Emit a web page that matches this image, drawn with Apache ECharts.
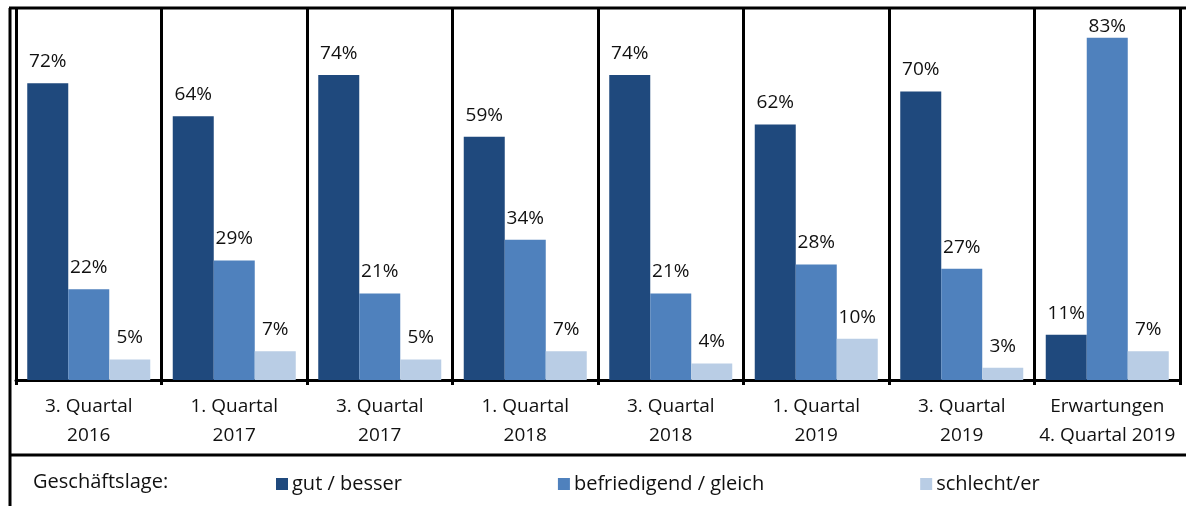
<!DOCTYPE html>
<html>
<head>
<meta charset="utf-8">
<script src="https://cdn.jsdelivr.net/npm/echarts@6/dist/echarts.min.js"></script>
<style>
  html, body { margin: 0; padding: 0; background: #fff; }
  #main { width: 1186px; height: 506px; }
</style>
</head>
<body>
<div id="main"></div>
<script>
// Geschäftslage – Anteile in Prozent
var categories = ['3. Quartal\n2016', '1. Quartal\n2017', '3. Quartal\n2017', '1. Quartal\n2018',
                  '3. Quartal\n2018', '1. Quartal\n2019', '3. Quartal\n2019', 'Erwartungen\n4. Quartal 2019'];
var seriesNames = ['gut / besser', 'befriedigend / gleich', 'schlecht/er'];
var gutBesser = [72, 64, 74, 59, 74, 62, 70, 11];
var befriedigendGleich = [22, 29, 21, 34, 21, 28, 27, 83];
var schlechter = [5, 7, 5, 7, 4, 10, 3, 7];

var FONT = 'Open Sans';
var colors = ['#1f497d', '#4f81bd', '#b9cde5'];
var yMax = 90;

function makeSeries(name, data, color) {
    // labels of very tall bars sit closer to the bar so they stay under the frame
    var items = data.map(function (v) {
        if (v > 80) {
            return { value: v, label: { distance: 2 } };
        }
        return v;
    });
    return {
        name: name,
        type: 'bar',
        data: items,
        barWidth: 41,
        barGap: 0,
        itemStyle: { color: color },
        label: {
            show: true,
            position: 'top',
            distance: 12,
            formatter: '{c}%',
            color: '#111',
            fontFamily: FONT,
            fontSize: 19
        }
    };
}

var myChart = echarts.init(document.getElementById('main'));
var option = {
    animation: false,
    grid: { left: 16, right: 6, top: 9, bottom: 126 },
    xAxis: {
        type: 'category',
        data: categories,
        axisLine: { lineStyle: { color: '#000', width: 3 } },
        axisTick: { show: true, length: 5, lineStyle: { color: '#000', width: 3 } },
        splitLine: { show: true, lineStyle: { color: '#000', width: 3 } },
        axisLabel: {
            color: '#111',
            fontFamily: FONT,
            fontSize: 19,
            lineHeight: 29,
            margin: 12,
            interval: 0
        }
    },
    yAxis: {
        type: 'value',
        min: 0,
        max: yMax,
        axisLine: { show: true, lineStyle: { color: '#000', width: 3 } },
        axisTick: { show: false },
        axisLabel: { show: false },
        splitLine: { show: false }
    },
    legend: {
        data: seriesNames,
        left: 271,
        top: 469,
        icon: 'rect',
        itemWidth: 12,
        itemHeight: 12,
        itemGap: 156,
        textStyle: { color: '#111', fontFamily: FONT, fontSize: 20, padding: [0, 0, 0, -1] }
    },
    graphic: [
        { type: 'line', shape: { x1: 9, y1: 8, x2: 1186, y2: 8 }, style: { stroke: '#000', lineWidth: 3 } },
        { type: 'line', shape: { x1: 10, y1: 8, x2: 10, y2: 506 }, style: { stroke: '#000', lineWidth: 3 } },
        { type: 'line', shape: { x1: 9, y1: 455, x2: 1186, y2: 455 }, style: { stroke: '#000', lineWidth: 3 } },
        { type: 'text', left: 33, top: 472, style: { text: 'Geschäftslage:', fill: '#111', font: '20px "' + FONT + '"' } }
    ],
    series: [
        makeSeries(seriesNames[0], gutBesser, colors[0]),
        makeSeries(seriesNames[1], befriedigendGleich, colors[1]),
        makeSeries(seriesNames[2], schlechter, colors[2])
    ]
};
myChart.setOption(option);
</script>
</body>
</html>
